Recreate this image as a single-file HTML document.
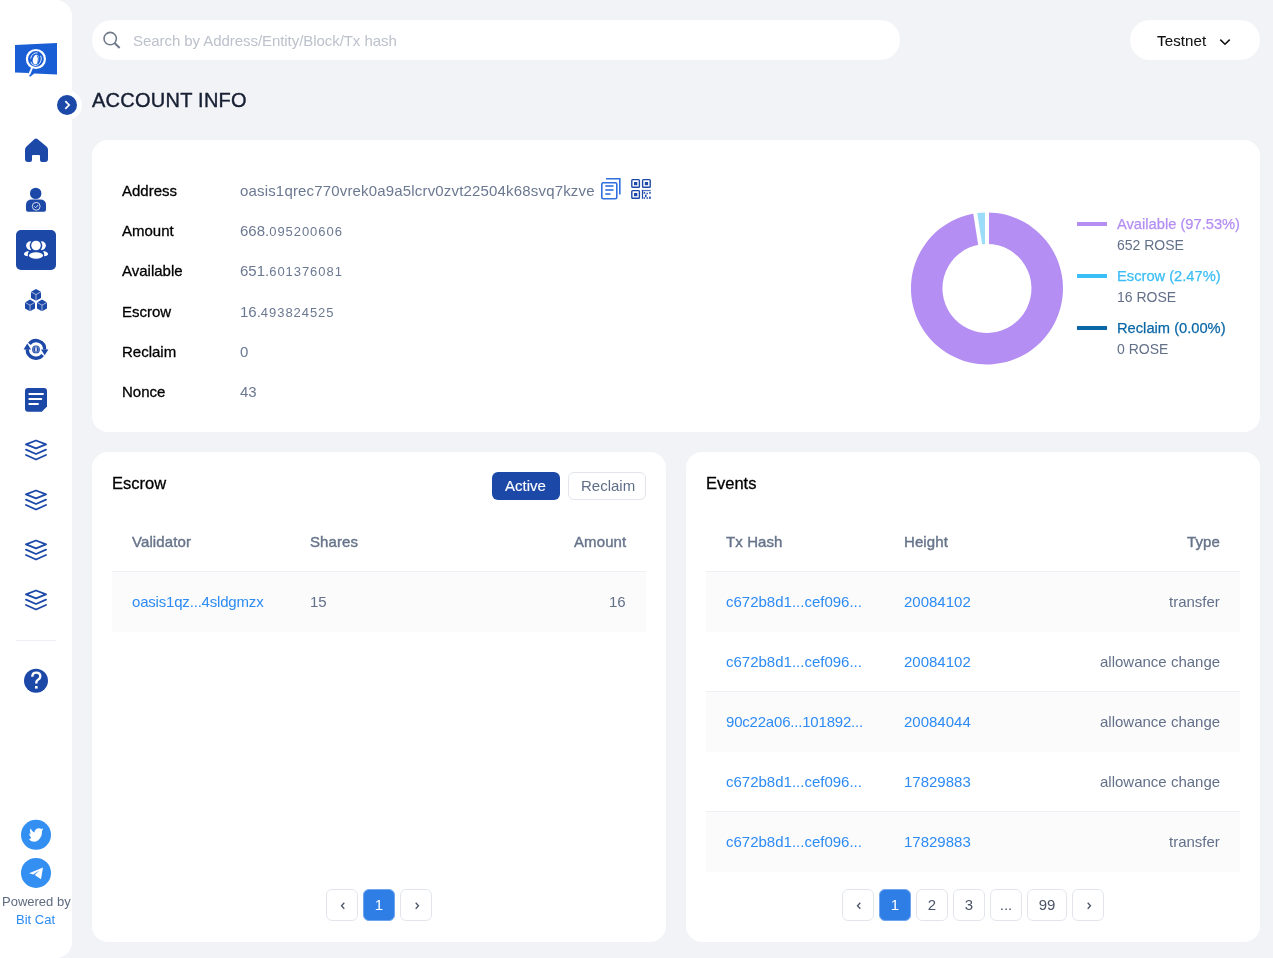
<!DOCTYPE html>
<html><head><meta charset="utf-8">
<style>
*{box-sizing:border-box;margin:0;padding:0}
html,body{width:1273px;height:958px;overflow:hidden}
body{background:#f1f3f7;font-family:"Liberation Sans",sans-serif;position:relative;color:#1a202c}
.abs{position:absolute}
.sidebar{position:absolute;left:0;top:0;width:72px;height:958px;background:#fff;border-radius:0 16px 16px 0}
.card{position:absolute;background:#fff;border-radius:16px}
.t{position:absolute;white-space:nowrap;line-height:1;will-change:transform}
.pg{will-change:transform}
.lbl{font-size:15px;color:#000;left:122px;-webkit-text-stroke:0.3px #000}
.val{font-size:15px;color:#6b7891;left:240px}
.val small{font-size:13px;letter-spacing:0.95px}
.link{color:#2d8bf4}
.gray{color:#637089}
.th{font-size:15px;color:#67748a;letter-spacing:0.1px;-webkit-text-stroke:0.4px #67748a}
.row{position:absolute;height:60px}
.row.s{background:#fbfbfc;border-top:1px solid #edf0f4}
.pg{position:absolute;top:889px;width:32px;height:32px;border:1px solid #e2e6ec;border-radius:6px;background:#fff;font-size:15px;color:#4a5568;text-align:center;line-height:30px}
.pg.on{background:#2f7ee6;border-color:#6fa6ee;color:#fff}
.pg svg{position:absolute;left:12px;top:11px}
.lg{font-size:14px;left:1117px}
.lgt{font-size:14.7px;-webkit-text-stroke:0.25px currentColor}
</style></head><body>

<div class="sidebar"></div>
<svg class="abs" style="left:0;top:0" width="90" height="958" viewBox="0 0 90 958">
 <!-- logo -->
 <path d="M15,45 L57,43 L57,74.4 L34.2,73.4 L29.9,76.9 L28.6,72.9 L15,72.6 Z" fill="#1a5ed6"/>
 <line x1="32.6" y1="66.5" x2="29.2" y2="74.6" stroke="#fff" stroke-width="1.9"/>
 <circle cx="35.9" cy="59" r="9" fill="none" stroke="#fff" stroke-width="2.2"/>
 <ellipse cx="35.9" cy="59.2" rx="5.3" ry="6.4" fill="none" stroke="#fff" stroke-width="0.8" stroke-dasharray="14 3 10 4" transform="rotate(15 35.9 59.2)"/>
 <ellipse cx="35.8" cy="59.6" rx="3" ry="5" fill="#fff" transform="rotate(12 35.8 59.6)"/>
 <path d="M37.3,55.5 Q39.3,58.5 37.8,62.8" fill="none" stroke="#1a5ed6" stroke-width="0.9"/>
 <!-- collapse -->
 <circle cx="67" cy="105" r="15" fill="#fff"/>
 <circle cx="67" cy="105" r="10" fill="#1c48a8"/>
 <polyline points="65.3,101.2 69.1,105 65.3,108.8" fill="none" stroke="#fff" stroke-width="1.7"/>
 <!-- home -->
 <path d="M34.6,139 Q36,137.9 37.4,139 L46.5,146.5 Q48,147.8 48,149.8 L48,159 Q48,162 45,162 L42,162 Q40,162 40,160 L40,156 Q40,155 39,155 L33,155 Q32,155 32,156 L32,160 Q32,162 30,162 L28,162 Q25,162 25,159 L25,149.8 Q25,147.8 26.5,146.5 Z" fill="#1c48a8"/>
 <!-- user -->
 <circle cx="35.7" cy="193.4" r="5.7" fill="#1c48a8"/>
 <path d="M28,211.7 Q26,211.7 26,209.5 L26,205 Q26,199.5 32,199.5 L40,199.5 Q46,199.5 46,205 L46,209.5 Q46,211.7 44,211.7 Z" fill="#1c48a8"/>
 <circle cx="36.2" cy="206.3" r="3.9" fill="none" stroke="#fff" stroke-width="0.8"/>
 <polyline points="34.3,206.3 35.7,207.7 38.2,205" fill="none" stroke="#fff" stroke-width="0.8"/>
 <!-- accounts active -->
 <rect x="16" y="230" width="40" height="40" rx="5" fill="#1c48a8"/>
 <circle cx="36" cy="245.5" r="4.8" fill="#fff"/>
 <ellipse cx="36" cy="255.5" rx="7" ry="3.3" fill="#fff"/>
 <path d="M31.3,241.4 A4.3,4.3 0 1 0 31.3,249.8 A6.2,6.2 0 0 1 31.3,241.4 Z" fill="#fff"/>
 <path d="M40.7,241.4 A4.3,4.3 0 1 1 40.7,249.8 A6.2,6.2 0 0 0 40.7,241.4 Z" fill="#fff"/>
 <path d="M27.5,251.2 Q23.5,252.2 24,254.5 Q24.5,256 28,256.3 Q27.3,253.5 29,251.2 Z" fill="#fff"/>
 <path d="M44.5,251.2 Q48.5,252.2 48,254.5 Q47.5,256 44,256.3 Q44.7,253.5 43,251.2 Z" fill="#fff"/>
 <!-- cubes -->
 <g fill="#1c48a8">
  <path d="M36,289 L41,291.8 L41,297.9 L36,300.7 L31,297.9 L31,291.8 Z"/>
  <path d="M30,299.6 L35,302.4 L35,308.5 L30,311.3 L25,308.5 L25,302.4 Z"/>
  <path d="M42,299.6 L47,302.4 L47,308.5 L42,311.3 L37,308.5 L37,302.4 Z"/>
 </g>
 <g stroke="#fff" stroke-width="0.7" fill="none" opacity="0.85">
  <polyline points="31,291.8 36,294.6 41,291.8"/><line x1="36" y1="294.6" x2="36" y2="300.7"/>
  <polyline points="25,302.4 30,305.2 35,302.4"/><line x1="30" y1="305.2" x2="30" y2="311.3"/>
  <polyline points="37,302.4 42,305.2 47,302.4"/><line x1="42" y1="305.2" x2="42" y2="311.3"/>
 </g>
 <!-- refresh coin -->
 <path d="M29.34,343.81 A8.7,8.7 0 0 1 44.7,349.6" fill="none" stroke="#1c48a8" stroke-width="3.4"/>
 <path d="M42.66,354.99 A8.7,8.7 0 0 1 27.3,349.2" fill="none" stroke="#1c48a8" stroke-width="3.4"/>
 <path d="M41,349.4 L48.4,349.4 L44.7,355.2 Z" fill="#1c48a8"/>
 <path d="M23.6,349.4 L31,349.4 L27.3,343.6 Z" fill="#1c48a8"/>
 <circle cx="36" cy="349.4" r="3.9" fill="#1c48a8"/>
 <circle cx="36" cy="349.4" r="2.9" fill="none" stroke="#fff" stroke-width="0.5" opacity="0.7"/>
 <ellipse cx="36" cy="349.4" rx="1" ry="2.3" fill="#fff" opacity="0.8"/>
 <!-- doc -->
 <path d="M28,388 L44,388 Q47,388 47,391 L47,406.5 L41.8,411.7 L28,411.7 Q25,411.7 25,408.7 L25,391 Q25,388 28,388 Z" fill="#1c48a8"/>
 <g stroke="#fff" stroke-width="1.9" stroke-linecap="round"><line x1="29.3" y1="394" x2="43" y2="394"/><line x1="29.3" y1="399" x2="41.3" y2="399"/><line x1="29.3" y1="404" x2="38" y2="404"/></g>
 <!-- layers -->
 <g fill="none" stroke="#1c48a8" stroke-width="1.85" stroke-linejoin="round" stroke-linecap="round">
  <path d="M36,440.5 L46,444.4 L36,448.3 L26,444.4 Z"/><polyline points="26,449.6 36,454 46,449.6"/><polyline points="26,455 36,459.5 46,455"/>
  <path d="M36,490.5 L46,494.4 L36,498.3 L26,494.4 Z"/><polyline points="26,499.6 36,504 46,499.6"/><polyline points="26,505 36,509.5 46,505"/>
  <path d="M36,540.5 L46,544.4 L36,548.3 L26,544.4 Z"/><polyline points="26,549.6 36,554 46,549.6"/><polyline points="26,555 36,559.5 46,555"/>
  <path d="M36,590.5 L46,594.4 L36,598.3 L26,594.4 Z"/><polyline points="26,599.6 36,604 46,599.6"/><polyline points="26,605 36,609.5 46,605"/>
 </g>
 <!-- divider -->
 <line x1="16" y1="640.5" x2="56" y2="640.5" stroke="#edf0f4" stroke-width="1"/>
 <!-- help -->
 <circle cx="36" cy="680.7" r="12" fill="#1c48a8"/>
 <path d="M32.3,676.8 Q32.3,672.6 36.3,672.6 Q40.3,672.6 40.3,676.3 Q40.3,678.6 38,679.8 Q36.3,680.8 36.3,682.8 L36.3,683.6" fill="none" stroke="#fff" stroke-width="2.4"/>
 <rect x="35" y="686" width="2.6" height="2.6" fill="#fff"/>
 <!-- twitter -->
 <circle cx="36" cy="834.8" r="15" fill="#3390f2"/>
 <path d="M30.5,828.2 Q32,831.6 34.3,832.4 Q35.3,828.3 39,828.3 Q40.7,828.3 41.6,829.2 L43.1,828.1 Q42.8,830.3 42,831 Q42.3,836.5 38.5,840 Q36.5,841.8 34.5,841.7 Q31,841.5 29,839.4 Q30.8,838.6 31.2,837.4 Q29.2,836 29.3,833.3 Q30,833.8 30.6,833.9 Q29.3,831 30.5,828.2 Z" fill="#fff"/>
 <!-- telegram -->
 <circle cx="36" cy="872.9" r="15" fill="#3390f2"/>
 <path d="M29.1,873.3 L43,867.4 L41,879.3 L34.7,874.9 L39.6,870.2 L33.2,874.6 Z" fill="#fff"/>
</svg>
<div class="t" style="left:2px;top:895px;font-size:13px;color:#5f6b80">Powered by</div>
<div class="t" style="left:16px;top:913px;font-size:13px;color:#2d8bf4">Bit Cat</div>

<!-- search -->
<div class="abs" style="left:92px;top:20px;width:808px;height:40px;background:#fff;border-radius:20px"></div>
<svg class="abs" style="left:100px;top:28px" width="24" height="24" viewBox="0 0 24 24"><circle cx="10.2" cy="10.6" r="6.2" fill="none" stroke="#717a8b" stroke-width="1.6"/><line x1="14.6" y1="15" x2="19.6" y2="20" stroke="#717a8b" stroke-width="2"/></svg>
<div class="t" style="left:133px;top:33px;font-size:15px;color:#bcc1cb;letter-spacing:-0.06px">Search by Address/Entity/Block/Tx hash</div>

<!-- testnet -->
<div class="abs" style="left:1130px;top:20px;width:130px;height:40px;background:#fff;border-radius:20px"></div>
<div class="t" style="left:1157px;top:33px;font-size:15px;color:#111;letter-spacing:0.15px;-webkit-text-stroke:0.1px #111">Testnet</div>
<svg class="abs" style="left:1218px;top:36px" width="14" height="12" viewBox="0 0 14 12"><polyline points="2.3,3.6 7,8.3 11.7,3.6" fill="none" stroke="#111" stroke-width="1.5"/></svg>

<div class="t" style="left:92px;top:90px;font-size:20px;color:#172033;letter-spacing:0.25px;-webkit-text-stroke:0.4px #172033">ACCOUNT INFO</div>

<!-- account card -->
<div class="card" style="left:92px;top:140px;width:1168px;height:292px"></div>
<div class="t lbl" style="top:183px">Address</div>
<div class="t lbl" style="top:223px">Amount</div>
<div class="t lbl" style="top:263px">Available</div>
<div class="t lbl" style="top:304px">Escrow</div>
<div class="t lbl" style="top:344px">Reclaim</div>
<div class="t lbl" style="top:384px">Nonce</div>
<div class="t val" style="top:183px;letter-spacing:0.17px">oasis1qrec770vrek0a9a5lcrv0zvt22504k68svq7kzve</div>
<div class="t val" style="top:223px">668.<small>095200606</small></div>
<div class="t val" style="top:263px">651.<small>601376081</small></div>
<div class="t val" style="top:304px">16.<small>493824525</small></div>
<div class="t val" style="top:344px">0</div>
<div class="t val" style="top:384px">43</div>
<svg class="abs" style="left:598px;top:176px" width="56" height="26" viewBox="0 0 56 26">
 <g fill="none" stroke="#2f6fde" stroke-width="1.6">
  <rect x="3.8" y="6.8" width="15" height="16" rx="1.5"/>
  <polyline points="8,2.8 21.8,2.8 21.8,18.5"/>
  <line x1="7.3" y1="10" x2="15.5" y2="10"/><line x1="7.3" y1="14" x2="15.5" y2="14"/><line x1="7.3" y1="18" x2="12.5" y2="18"/>
 </g>
 <g fill="none" stroke="#1c48a8" stroke-width="1.4">
  <rect x="33.8" y="3.6" width="7.6" height="7.6" rx="0.8"/><rect x="44.6" y="3.6" width="7.6" height="7.6" rx="0.8"/><rect x="33.8" y="14.6" width="7.6" height="7.6" rx="0.8"/>
 </g>
 <g fill="#1c48a8">
  <rect x="36" y="6" width="3.3" height="3.2"/><rect x="46.8" y="6" width="3.3" height="3.2"/><rect x="36" y="17" width="3.3" height="3.2"/>
  <rect x="43.9" y="13.9" width="8.9" height="1.3" opacity="0.75"/><rect x="43.9" y="13.9" width="1.2" height="8.9"/>
  <rect x="45.6" y="16.1" width="1.6" height="1.6"/><rect x="48.4" y="16.8" width="1.5" height="1.4"/><rect x="51.1" y="16.1" width="1.7" height="1.6"/>
  <rect x="47" y="18.6" width="1.6" height="2.6"/><rect x="45.6" y="21.3" width="1.5" height="1.5"/><rect x="48.6" y="21.3" width="1.5" height="1.5"/><rect x="51.1" y="20.6" width="1.7" height="2.2"/>
 </g>
</svg>

<!-- donut -->
<svg class="abs" style="left:900px;top:200px" width="175" height="175" viewBox="0 0 175 175" id="donut"><path d="M87.00,12.40 A76,76 0 1 1 75.25,13.31 L80.12,44.43 A44.5,44.5 0 1 0 87.00,43.90 Z" fill="#b48ef2"/><path d="M75.25,13.31 A76,76 0 0 1 87.00,12.40 L87.00,43.90 A44.5,44.5 0 0 0 80.12,44.43 Z" fill="#9bdcf8"/><line x1="87.00" y1="10.40" x2="87.00" y2="45.90" stroke="#fff" stroke-width="4"/><line x1="74.94" y1="11.34" x2="80.43" y2="46.41" stroke="#fff" stroke-width="4"/></svg>

<!-- legend -->
<div class="abs" style="left:1077px;top:222px;width:30px;height:4px;background:#b48ef2"></div>
<div class="abs" style="left:1077px;top:274px;width:30px;height:4px;background:#3bbdf5"></div>
<div class="abs" style="left:1077px;top:326px;width:30px;height:4px;background:#0a67a6"></div>
<div class="t lg lgt" style="top:217px;color:#b48ef2">Available (97.53%)</div>
<div class="t lg gray" style="top:238px">652 ROSE</div>
<div class="t lg lgt" style="top:269px;color:#3bbdf5">Escrow (2.47%)</div>
<div class="t lg gray" style="top:290px">16 ROSE</div>
<div class="t lg lgt" style="top:321px;color:#0a67a6">Reclaim (0.00%)</div>
<div class="t lg gray" style="top:342px">0 ROSE</div>

<!-- escrow card -->
<div class="card" style="left:92px;top:452px;width:574px;height:490px"></div>
<div class="t" style="left:112px;top:475px;font-size:16.5px;color:#000;-webkit-text-stroke:0.3px #000">Escrow</div>
<div class="abs" style="left:492px;top:472px;width:68px;height:28px;background:#1c48a8;border-radius:6px"></div>
<div class="t" style="left:505px;top:478px;font-size:15px;color:#fff;-webkit-text-stroke:0.15px #fff">Active</div>
<div class="abs" style="left:568px;top:472px;width:78px;height:28px;border:1px solid #e2e6ec;border-radius:6px"></div>
<div class="t" style="left:581px;top:478px;font-size:15px;color:#5f6e87">Reclaim</div>
<div class="t th" style="left:132px;top:534px">Validator</div>
<div class="t th" style="left:310px;top:534px">Shares</div>
<div class="t th" style="right:647px;top:534px">Amount</div>
<div class="row s" style="left:112px;top:571px;width:534px;height:61px"></div>
<div class="t link" style="left:132px;top:594px;font-size:15px;letter-spacing:-0.19px">oasis1qz...4sldgmzx</div>
<div class="t gray" style="left:310px;top:594px;font-size:15px">15</div>
<div class="t gray" style="right:647px;top:594px;font-size:15px">16</div>
<div class="pg" style="left:326px"><svg width="8" height="10" viewBox="0 0 8 10"><polyline points="5.3,1.8 2.5,4.8 5.3,7.8" fill="none" stroke="#4a5568" stroke-width="1.3"/></svg></div>
<div class="pg on" style="left:363px">1</div>
<div class="pg" style="left:400px"><svg width="8" height="10" viewBox="0 0 8 10"><polyline points="2.7,1.8 5.5,4.8 2.7,7.8" fill="none" stroke="#4a5568" stroke-width="1.3"/></svg></div>

<!-- events card -->
<div class="card" style="left:686px;top:452px;width:574px;height:490px"></div>
<div class="t" style="left:706px;top:475px;font-size:16.5px;color:#000;-webkit-text-stroke:0.3px #000">Events</div>
<div class="t th" style="left:726px;top:534px">Tx Hash</div>
<div class="t th" style="left:904px;top:534px">Height</div>
<div class="t th" style="right:53px;top:534px">Type</div>
<div class="row s" style="left:706px;top:571px;width:534px;height:61px"></div>
<div class="row s" style="left:706px;top:691px;width:534px;height:61px"></div>
<div class="row s" style="left:706px;top:811px;width:534px;height:61px"></div>
<div class="t link" style="left:726px;top:594px;font-size:15px">c672b8d1...cef096...</div>
<div class="t link" style="left:904px;top:594px;font-size:15px">20084102</div>
<div class="t gray" style="right:53px;top:594px;font-size:15px">transfer</div>
<div class="t link" style="left:726px;top:654px;font-size:15px">c672b8d1...cef096...</div>
<div class="t link" style="left:904px;top:654px;font-size:15px">20084102</div>
<div class="t gray" style="right:53px;top:654px;font-size:15px">allowance change</div>
<div class="t link" style="left:726px;top:714px;font-size:15px;letter-spacing:-0.2px">90c22a06...101892...</div>
<div class="t link" style="left:904px;top:714px;font-size:15px">20084044</div>
<div class="t gray" style="right:53px;top:714px;font-size:15px">allowance change</div>
<div class="t link" style="left:726px;top:774px;font-size:15px">c672b8d1...cef096...</div>
<div class="t link" style="left:904px;top:774px;font-size:15px">17829883</div>
<div class="t gray" style="right:53px;top:774px;font-size:15px">allowance change</div>
<div class="t link" style="left:726px;top:834px;font-size:15px">c672b8d1...cef096...</div>
<div class="t link" style="left:904px;top:834px;font-size:15px">17829883</div>
<div class="t gray" style="right:53px;top:834px;font-size:15px">transfer</div>
<div class="pg" style="left:842px"><svg width="8" height="10" viewBox="0 0 8 10"><polyline points="5.3,1.8 2.5,4.8 5.3,7.8" fill="none" stroke="#4a5568" stroke-width="1.3"/></svg></div>
<div class="pg on" style="left:879px">1</div>
<div class="pg" style="left:916px">2</div>
<div class="pg" style="left:953px">3</div>
<div class="pg" style="left:990px">...</div>
<div class="pg" style="left:1027px;width:40px">99</div>
<div class="pg" style="left:1072px"><svg width="8" height="10" viewBox="0 0 8 10"><polyline points="2.7,1.8 5.5,4.8 2.7,7.8" fill="none" stroke="#4a5568" stroke-width="1.3"/></svg></div>

</body></html>
